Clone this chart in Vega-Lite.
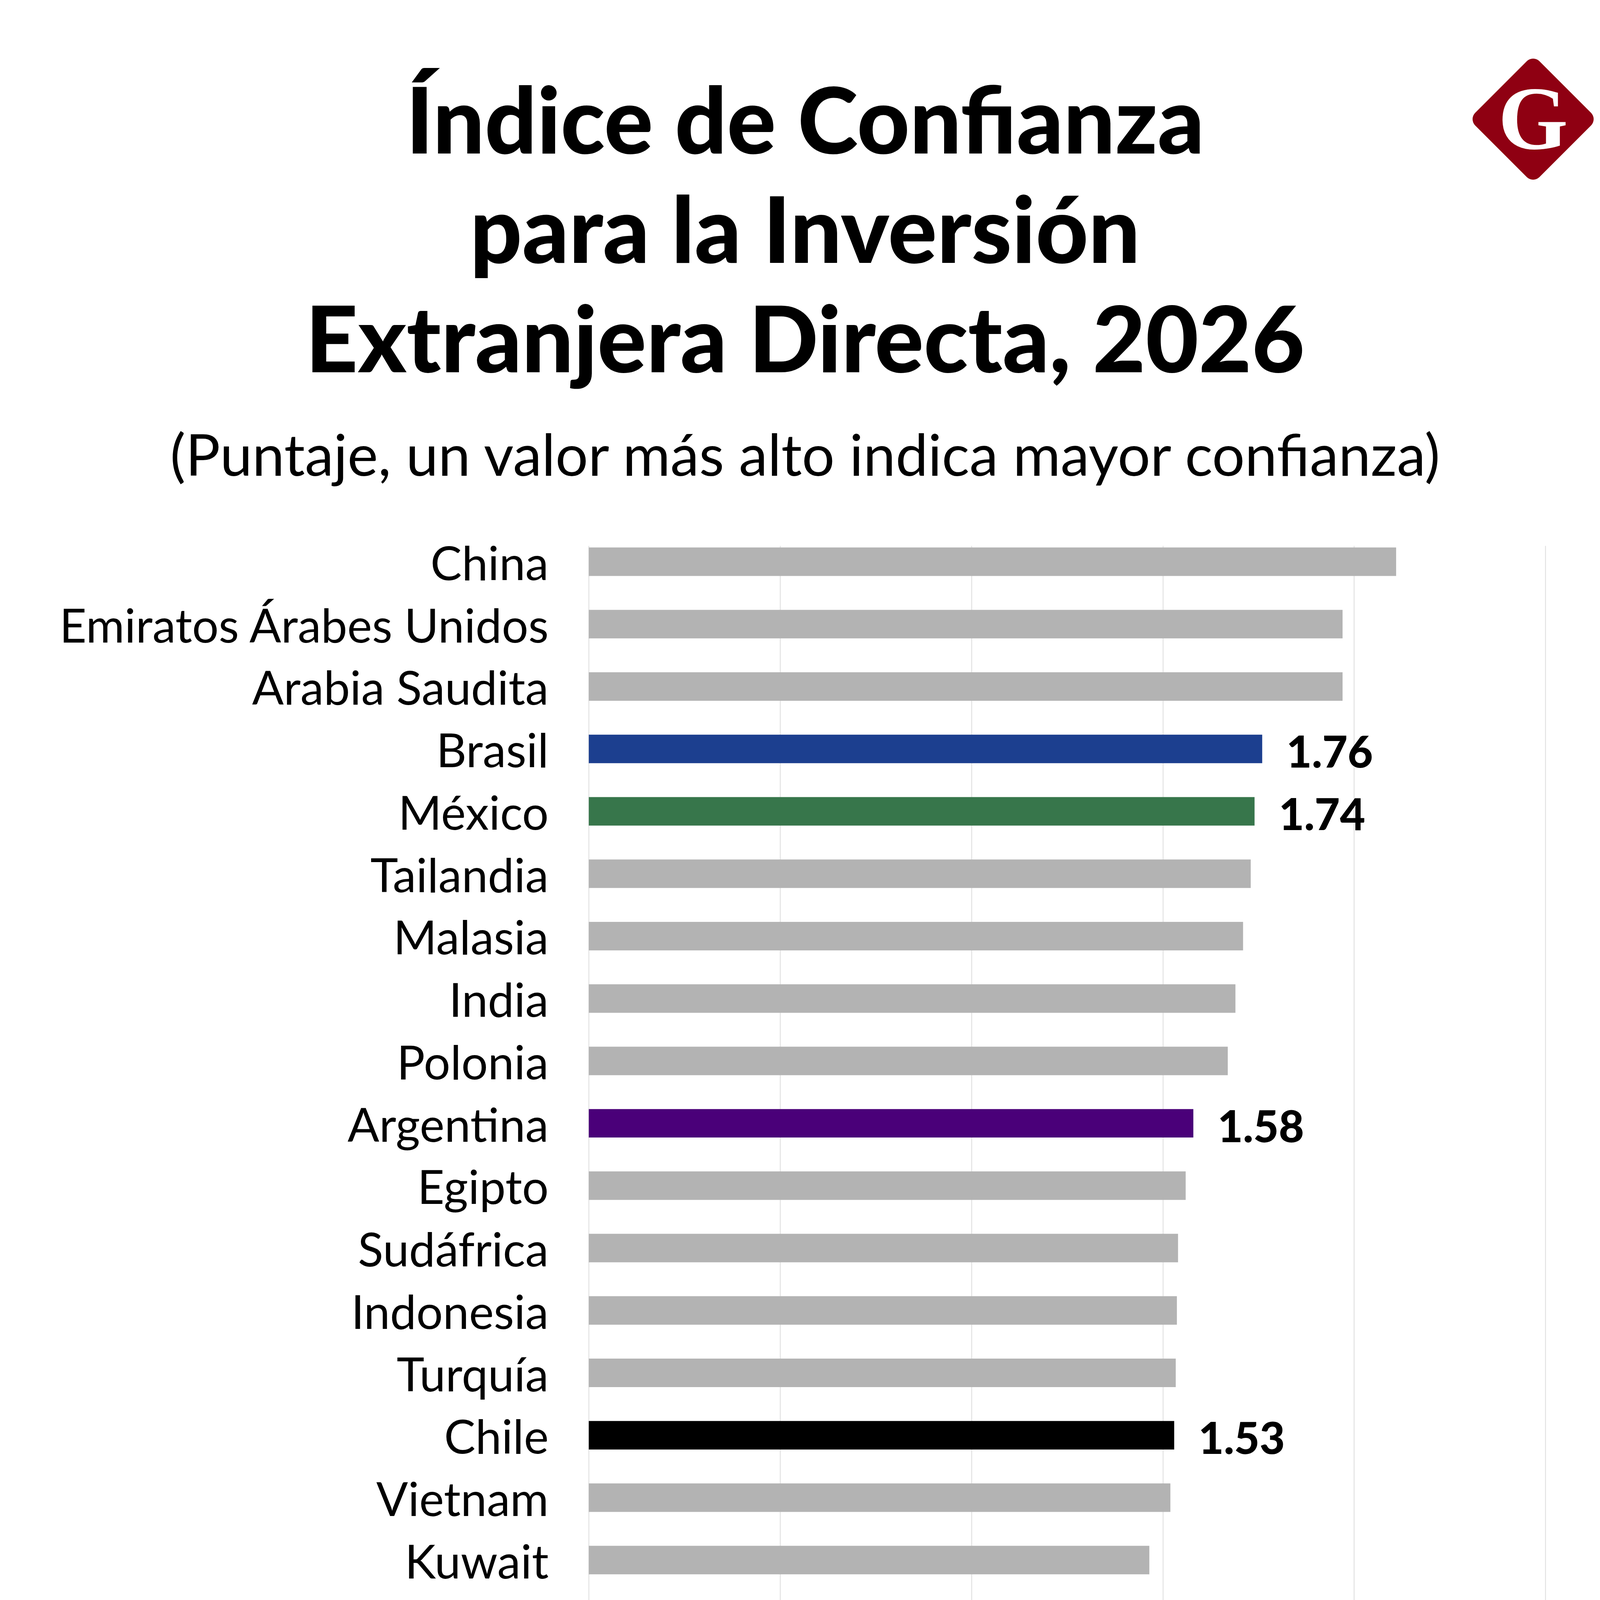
{
  "$schema": "https://vega.github.io/schema/vega-lite/v6.json",
  "width": 4150,
  "height": 6313,
  "autosize": {"type": "fit", "contains": "padding"},
  "padding": {"left": 0, "top": 173, "right": 0, "bottom": 186},
  "background": "white",
  "config": {
    "view": {"stroke": null},
    "font": "Lato"
  },
  "title": {
    "text": ["Índice de Confianza", "para la Inversión", "Extranjera Directa, 2026"],
    "subtitle": "(Puntaje, un valor más alto indica mayor confianza)",
    "anchor": "middle",
    "frame": "group",
    "dx": -13,
    "offset": -1100,
    "font": "Lato",
    "fontSize": 234,
    "fontWeight": 900,
    "lineHeight": 280,
    "color": "black",
    "subtitleFont": "Lato",
    "subtitleFontSize": 148,
    "subtitleColor": "black",
    "subtitlePadding": 99
  },
  "data": {
    "values": [
      {"pais": "China", "valor": 2.11},
      {"pais": "Emiratos Árabes Unidos", "valor": 1.97},
      {"pais": "Arabia Saudita", "valor": 1.97},
      {"pais": "Brasil", "valor": 1.76},
      {"pais": "México", "valor": 1.74},
      {"pais": "Tailandia", "valor": 1.73},
      {"pais": "Malasia", "valor": 1.71},
      {"pais": "India", "valor": 1.69},
      {"pais": "Polonia", "valor": 1.67},
      {"pais": "Argentina", "valor": 1.58},
      {"pais": "Egipto", "valor": 1.56},
      {"pais": "Sudáfrica", "valor": 1.54},
      {"pais": "Indonesia", "valor": 1.537},
      {"pais": "Turquía", "valor": 1.534},
      {"pais": "Chile", "valor": 1.53},
      {"pais": "Vietnam", "valor": 1.52},
      {"pais": "Kuwait", "valor": 1.465},
      {"pais": "Filipinas", "valor": 1.465},
      {"pais": "Colombia", "valor": 1.44},
      {"pais": "Hungría", "valor": 1.411},
      {"pais": "Perú", "valor": 1.41},
      {"pais": "Baréin", "valor": 1.405},
      {"pais": "Uruguay", "valor": 1.38},
      {"pais": "Omán", "valor": 1.375},
      {"pais": "Rusia", "valor": 1.36}
    ]
  },
  "layer": [
    {
      "mark": {"type": "bar"},
      "encoding": {
        "y": {
          "field": "pais",
          "type": "nominal",
          "sort": null,
          "scale": {
            "domain": ["China", "Emiratos Árabes Unidos", "Arabia Saudita", "Brasil", "México", "Tailandia", "Malasia", "India", "Polonia", "Argentina", "Egipto", "Sudáfrica", "Indonesia", "Turquía", "Chile", "Vietnam", "Kuwait", "Filipinas", "Colombia", "Hungría", "Perú", "Baréin", "Uruguay", "Omán", "Rusia"],
            "paddingInner": 0.543,
            "paddingOuter": 0.258,
            "align": 0.055
          },
          "axis": {
            "title": null,
            "offset": -1508,
            "domain": false,
            "ticks": false,
            "tickSize": 0,
            "labelFont": "Lato",
            "labelFontSize": 120,
            "labelColor": "black",
            "labelPadding": 104,
            "labelBaseline": "alphabetic",
            "labelOffset": 47,
            "labelLimit": 2000
          }
        },
        "x": {
          "field": "valor",
          "type": "quantitative",
          "scale": {"domain": [-1.5388, 2.6959], "nice": false, "zero": false},
          "axis": {
            "values": [0, 0.5, 1, 1.5, 2, 2.5],
            "format": ".1f",
            "grid": true,
            "gridColor": "#dcdcdc",
            "gridWidth": 2,
            "domain": false,
            "tickColor": "black",
            "tickWidth": 2,
            "tickSize": 44,
            "labelFont": "Lato",
            "labelFontSize": 120,
            "labelColor": "black",
            "labelBaseline": "alphabetic",
            "labelPadding": 170,
            "title": "Fuente: Kearney, FDI Confidence Index 2026.",
            "titleFont": "Lato",
            "titleFontSize": 120,
            "titleFontWeight": "normal",
            "titleColor": "black",
            "titleAnchor": "start",
            "titleAlign": "left",
            "titleBaseline": "alphabetic",
            "titleX": 384,
            "titleY": 717
          }
        },
        "color": {
          "condition": [
            {"test": "datum.pais === 'Brasil'", "value": "#1c3f8f"},
            {"test": "datum.pais === 'México'", "value": "#37764b"},
            {"test": "datum.pais === 'Argentina'", "value": "#4a0079"},
            {"test": "datum.pais === 'Chile'", "value": "#000000"},
            {"test": "datum.pais === 'Colombia'", "value": "#fccd04"},
            {"test": "datum.pais === 'Perú'", "value": "#fa821c"}
          ],
          "value": "#b3b3b3"
        }
      }
    },
    {
      "transform": [
        {"filter": {"field": "pais", "oneOf": ["Brasil", "México", "Argentina", "Chile", "Colombia", "Perú"]}}
      ],
      "mark": {
        "type": "text",
        "align": "left",
        "baseline": "alphabetic",
        "dx": 62,
        "dy": 48,
        "font": "Lato",
        "fontSize": 112,
        "fontWeight": 900,
        "color": "black"
      },
      "encoding": {
        "x": {"field": "valor", "type": "quantitative"},
        "y": {"field": "pais", "type": "nominal", "sort": null},
        "text": {"field": "valor", "type": "quantitative", "format": ".2f"}
      }
    },
    {
      "transform": [{"filter": "datum.pais === 'Rusia'"}],
      "mark": {
        "type": "rule",
        "color": "black",
        "strokeWidth": 5,
        "yOffset": 117
      },
      "encoding": {
        "x": {"datum": 0},
        "x2": {"datum": 2.5},
        "y": {"field": "pais", "type": "nominal", "sort": null}
      }
    },
    {
      "transform": [{"filter": "datum.pais === 'China'"}],
      "mark": {
        "type": "point",
        "shape": "diamond",
        "filled": true,
        "size": 69700,
        "color": "#8f0012",
        "stroke": "#8f0012",
        "strokeWidth": 46,
        "strokeJoin": "round",
        "opacity": 1,
        "yOffset": -1133
      },
      "encoding": {
        "x": {"datum": 2.468},
        "y": {"field": "pais", "type": "nominal", "sort": null}
      }
    },
    {
      "transform": [{"filter": "datum.pais === 'China'"}],
      "mark": {
        "type": "text",
        "text": "G",
        "font": "Liberation Serif",
        "fontWeight": "bold",
        "fontSize": 230,
        "color": "white",
        "align": "center",
        "baseline": "middle",
        "dy": -1126
      },
      "encoding": {
        "x": {"datum": 2.468},
        "y": {"field": "pais", "type": "nominal", "sort": null}
      }
    },
    {
      "transform": [{"filter": "datum.pais === 'Rusia'"}],
      "mark": {
        "type": "rule",
        "color": "#666666",
        "strokeWidth": 3,
        "yOffset": 556
      },
      "encoding": {
        "x": {"datum": -1.523},
        "x2": {"datum": 2.6959},
        "y": {"field": "pais", "type": "nominal", "sort": null}
      }
    }
  ]
}
